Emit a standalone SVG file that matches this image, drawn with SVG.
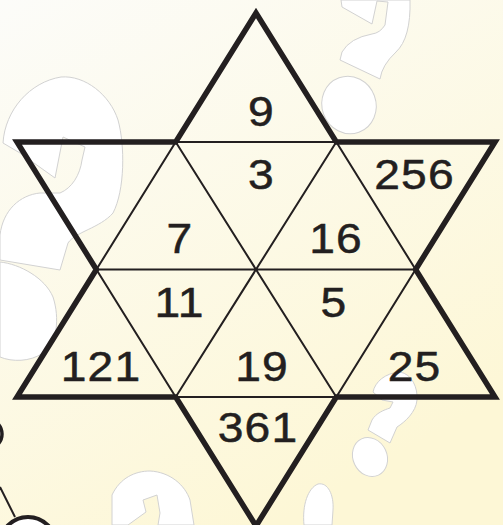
<svg xmlns="http://www.w3.org/2000/svg" width="503" height="525" viewBox="0 0 503 525">
<defs>
<linearGradient id="bg" x1="0" y1="0" x2="0.55" y2="1">
<stop offset="0" stop-color="#fcfcf9"/>
<stop offset="1" stop-color="#fdf7d6"/>
</linearGradient>
<style>
.q{fill:#ffffff;stroke:#d2d2d2;stroke-width:1}
.thin{fill:none;stroke:#231f20;stroke-width:2}
.thick{fill:none;stroke:#231f20;stroke-width:5.5;stroke-linejoin:miter;stroke-miterlimit:10}
.num{font-family:"Liberation Sans",Arial,sans-serif;font-size:42px;fill:#231f20;stroke:#231f20;stroke-width:0.5;text-anchor:middle;letter-spacing:1px}
.blk{fill:#ffffff;stroke:#231f20}
</style>
</defs>
<rect width="503" height="525" fill="url(#bg)"/>
<g id="decor">
<path class="q" d="M3,143 C5,110 30,82 61,77 C85,75 110,95 118,120 C125,145 125,190 113,213 C100,228 75,232 68,243 L60,270 L0,260 L0,235 C3,210 20,195 40,193 L60,193 C72,188 80,175 82,160 L85,147 L63,137 L55,178 L20,153 Z"/>
<path class="q" d="M0,262 C20,264 45,278 53,297 C60,318 57,345 43,353 C30,362 12,362 0,357 Z"/>
<path class="q" d="M341,0 L342,7 L372,24 L377,1 L388,2 L385,25 Q380,33 372,34 Q350,38 342,52 L340,60 L380,79 Q382,65 396,52 Q411,38 410,0 Z"/>
<ellipse class="q" cx="349" cy="105" rx="27" ry="29" transform="rotate(-20 349 105)"/>
<path class="q" d="M373,392 C375,382 385,373 400,372 C412,374 418,388 417,400 C416,412 405,422 397,427 L390,443 L368,430 L372,420 C376,413 384,410 390,408 L393,402 L382,400 Z"/>
<ellipse class="q" cx="370" cy="457" rx="17" ry="20" transform="rotate(-25 370 457)"/>
<path class="q" d="M112,525 L112,495 C120,478 135,471 150,471 C170,472 185,485 190,500 L194,525 L158,525 L160,513 L157,495 L143,500 L146,512 L128,525 Z"/>
<path class="q" d="M304,525 C302,505 308,488 318,484 C328,482 334,495 333,510 L332,525 Z"/>
<circle class="blk" cx="-13" cy="434" r="15" stroke-width="3.5"/>
<line x1="0" y1="487" x2="15" y2="517" stroke="#231f20" stroke-width="2"/>
<circle class="blk" cx="28" cy="545" r="28" stroke-width="4"/>
</g>
<g id="connectors">
<path class="thin" d="M175.7,142 L336.3,142 L415.6,269.5 L336.3,397 L175.7,397 L96.4,269.5 Z"/>
<path class="thin" d="M96.4,269.5 L415.6,269.5 M175.7,142 L336.3,397 M336.3,142 L175.7,397"/>
<path class="thick" d="M256,13 L336.3,142 L495,142 L415.6,269.5 L495,397 L336.3,397 L256,526 L175.7,397 L17,397 L96.4,269.5 L17,142 L175.7,142 Z"/>
</g>
<g id="cell-9"><text class="num" transform="translate(261.5 126) scale(1.1 1)">9</text></g>
<g id="cell-3"><text class="num" transform="translate(261.5 189) scale(1.1 1)">3</text></g>
<g id="cell-256"><text class="num" transform="translate(414.5 189) scale(1.1 1)">256</text></g>
<g id="cell-7"><text class="num" transform="translate(180 253) scale(1.1 1)">7</text></g>
<g id="cell-16"><text class="num" transform="translate(336 253) scale(1.1 1)">16</text></g>
<g id="cell-11"><text class="num" transform="translate(179.5 317) scale(1.1 1)">11</text></g>
<g id="cell-5"><text class="num" transform="translate(334 317) scale(1.1 1)">5</text></g>
<g id="cell-121"><text class="num" transform="translate(101 381) scale(1.1 1)">121</text></g>
<g id="cell-19"><text class="num" transform="translate(262 381) scale(1.1 1)">19</text></g>
<g id="cell-25"><text class="num" transform="translate(414.5 381) scale(1.1 1)">25</text></g>
<g id="cell-361"><text class="num" transform="translate(258 442) scale(1.1 1)">361</text></g>
</svg>
